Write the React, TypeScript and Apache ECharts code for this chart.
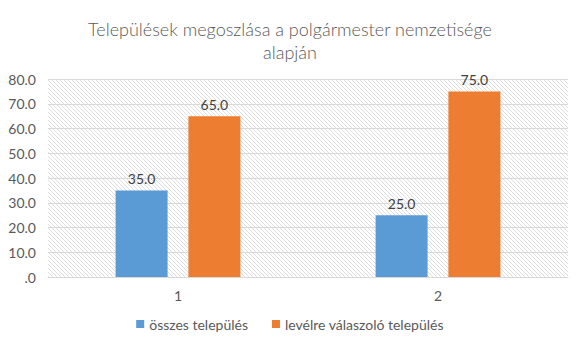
import React, { useEffect, useRef } from "react";
import * as echarts from "echarts";

const categories = ["1", "2"];
const seriesNames = ["összes település", "levélre válaszoló település"];
const seriesAll = [35.0, 25.0];
const seriesReplied = [65.0, 75.0];
const yTicks = [0, 10, 20, 30, 40, 50, 60, 70, 80];
const titleText = "Települések megoszlása a polgármester nemzetisége\nalapján";

function makePattern(): HTMLCanvasElement {
  const c = document.createElement("canvas");
  c.width = 4;
  c.height = 4;
  const ctx = c.getContext("2d")!;
  ctx.fillStyle = "#ffffff";
  ctx.fillRect(0, 0, 4, 4);
  ctx.fillStyle = "#dedede";
  for (let i = 0; i < 4; i++) ctx.fillRect(i, i, 1, 1);
  return c;
}

export default function App() {
  const ref = useRef<HTMLDivElement>(null);
  useEffect(() => {
    if (!ref.current) return;
    const chart = echarts.init(ref.current, undefined, { renderer: "svg" });
    const font = "Lato, 'Noto Sans', sans-serif";
    const labelFmt = (p: any) => Number(p.value).toFixed(1);
    chart.setOption({
      animation: false,
      backgroundColor: "#ffffff",
      textStyle: { fontFamily: font },
      title: {
        text: titleText,
        left: "center",
        top: 12,
        textStyle: {
          fontFamily: font,
          fontSize: 18,
          fontWeight: 300,
          color: "#595959",
          lineHeight: 23,
        },
      },
      legend: {
        bottom: 15,
        left: "center",
        itemWidth: 8,
        itemHeight: 8,
        itemGap: 24,
        icon: "rect",
        textStyle: { fontFamily: font, fontSize: 14, color: "#595959" },
        data: seriesNames,
      },
      grid: {
        left: 48,
        right: 12,
        top: 79,
        bottom: 74,
        show: true,
        borderWidth: 0,
        backgroundColor: { image: makePattern(), repeat: "repeat" } as any,
      },
      xAxis: {
        type: "category",
        data: categories,
        axisLine: { show: true, lineStyle: { color: "#d9d9d9" } },
        axisTick: { show: false },
        axisLabel: { fontFamily: font, fontSize: 14, color: "#595959", margin: 11 },
      },
      yAxis: {
        type: "value",
        min: yTicks[0],
        max: yTicks[yTicks.length - 1],
        interval: 10,
        axisLine: { show: false },
        axisTick: { show: false },
        splitLine: { show: true, lineStyle: { color: "#d9d9d9", width: 1 } },
        axisLabel: {
          fontFamily: font,
          fontSize: 14,
          color: "#595959",
          margin: 12,
          formatter: (v: number) => (v === 0 ? ".0" : v.toFixed(1)),
        },
      },
      series: [
        {
          name: seriesNames[0],
          type: "bar",
          data: seriesAll,
          barWidth: "20%",
          barGap: "40%",
          itemStyle: { color: "#5b9bd5" },
          label: {
            show: true,
            position: "top",
            distance: 5,
            fontFamily: font,
            fontSize: 14,
            color: "#404040",
            formatter: labelFmt,
          },
        },
        {
          name: seriesNames[1],
          type: "bar",
          data: seriesReplied,
          barWidth: "20%",
          itemStyle: { color: "#ed7d31" },
          label: {
            show: true,
            position: "top",
            distance: 5,
            fontFamily: font,
            fontSize: 14,
            color: "#404040",
            formatter: labelFmt,
          },
        },
      ],
    });
    return () => chart.dispose();
  }, []);
  return <div ref={ref} style={{ width: 580, height: 351, position: "absolute", left: 0, top: 0 }} />;
}
